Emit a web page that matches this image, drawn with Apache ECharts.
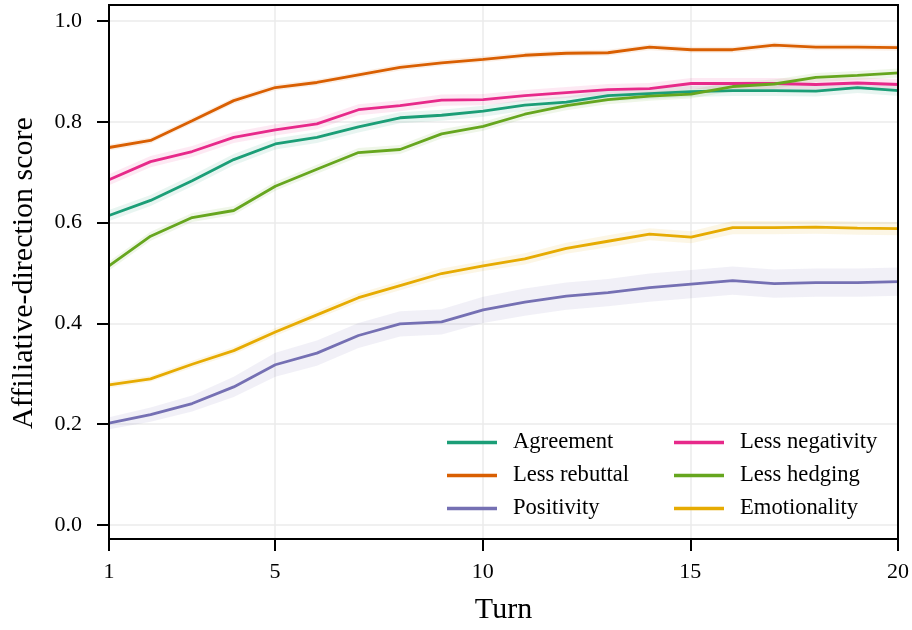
<!DOCTYPE html>
<html>
<head>
<meta charset="utf-8">
<script src="https://cdn.jsdelivr.net/npm/echarts@6/dist/echarts.min.js"></script>
<style>
html,body{margin:0;padding:0;background:#fff;}
#chart{width:912px;height:630px;}
</style>
</head>
<body>
<div id="chart"></div>
<script>
// ---- data ----
const turns = [1,2,3,4,5,6,7,8,9,10,11,12,13,14,15,16,17,18,19,20];
const xTickLabels = [1,5,10,15,20];
const yTickLabels = [0.0,0.2,0.4,0.6,0.8,1.0];

const agreement      = [0.614,0.644,0.683,0.725,0.756,0.769,0.790,0.808,0.813,0.821,0.833,0.839,0.852,0.856,0.860,0.862,0.862,0.861,0.868,0.862];
const lessRebuttal   = [0.749,0.763,0.802,0.842,0.868,0.878,0.893,0.908,0.917,0.924,0.932,0.936,0.937,0.948,0.943,0.943,0.952,0.948,0.948,0.947];
const positivity     = [0.202,0.219,0.241,0.274,0.318,0.341,0.376,0.399,0.403,0.427,0.442,0.454,0.461,0.471,0.478,0.485,0.479,0.481,0.481,0.483];
const lessNegativity = [0.685,0.721,0.741,0.769,0.784,0.796,0.824,0.832,0.843,0.844,0.852,0.858,0.864,0.866,0.876,0.876,0.876,0.874,0.877,0.874];
const lessHedging    = [0.514,0.573,0.610,0.624,0.672,0.706,0.739,0.745,0.776,0.791,0.815,0.832,0.844,0.851,0.855,0.870,0.875,0.888,0.892,0.897];
const emotionality   = [0.278,0.290,0.319,0.346,0.383,0.417,0.451,0.475,0.499,0.514,0.528,0.549,0.563,0.577,0.571,0.590,0.590,0.591,0.589,0.588];

// confidence-band half widths
const agreementCI      = [0.011,0.011,0.011,0.011,0.011,0.011,0.011,0.011,0.011,0.011,0.011,0.011,0.011,0.011,0.011,0.011,0.011,0.011,0.011,0.011];
const lessRebuttalCI   = [0.006,0.006,0.006,0.006,0.006,0.006,0.006,0.006,0.006,0.006,0.006,0.006,0.006,0.006,0.006,0.006,0.006,0.006,0.006,0.006];
const positivityCI     = [0.012,0.014,0.016,0.020,0.024,0.025,0.025,0.025,0.025,0.026,0.027,0.027,0.027,0.028,0.028,0.028,0.028,0.028,0.028,0.028];
const lessNegativityCI = [0.011,0.011,0.011,0.011,0.011,0.011,0.011,0.011,0.011,0.011,0.011,0.011,0.011,0.011,0.011,0.011,0.011,0.011,0.011,0.011];
const lessHedgingCI    = [0.009,0.009,0.009,0.009,0.009,0.009,0.009,0.009,0.009,0.009,0.009,0.009,0.009,0.009,0.009,0.009,0.009,0.009,0.009,0.009];
const emotionalityCI   = [0.006,0.006,0.007,0.007,0.008,0.008,0.009,0.009,0.010,0.010,0.011,0.011,0.012,0.012,0.012,0.013,0.013,0.013,0.013,0.013];

const seriesNames = ['Agreement','Less rebuttal','Positivity','Less negativity','Less hedging','Emotionality'];
const seriesValues = [agreement, lessRebuttal, positivity, lessNegativity, lessHedging, emotionality];
const seriesCI = [agreementCI, lessRebuttalCI, positivityCI, lessNegativityCI, lessHedgingCI, emotionalityCI];
const colors = ['#1b9e77','#d95f02','#7570b3','#e7298a','#66a61e','#e6ab02'];

// ---- chart ----
const FONT = '"Liberation Serif", "Times New Roman", serif';
function rgba(hex, a){
  const r=parseInt(hex.slice(1,3),16), g=parseInt(hex.slice(3,5),16), b=parseInt(hex.slice(5,7),16);
  return 'rgba('+r+','+g+','+b+','+a+')';
}
const catLabels = turns.map(String);
const tickIdx = new Set(xTickLabels.map(v => turns.indexOf(v)));

const series = [];
seriesNames.forEach((name, i) => {
  const vals = seriesValues[i], ci = seriesCI[i];
  const lower = vals.map((v, k) => +(v - ci[k]).toFixed(4));
  const width = ci.map(c => +(2 * c).toFixed(4));
  series.push({
    name: name + ' band low', type: 'line', xAxisIndex: 0, yAxisIndex: 0,
    data: lower, stack: 'band' + i, symbol: 'none', silent: true,
    lineStyle: { opacity: 0 }, z: 1
  });
  series.push({
    name: name + ' band', type: 'line', xAxisIndex: 0, yAxisIndex: 0,
    data: width, stack: 'band' + i, symbol: 'none', silent: true,
    lineStyle: { opacity: 0 }, areaStyle: { color: rgba(colors[i], 0.1), opacity: 1 }, z: 1
  });
});
seriesNames.forEach((name, i) => {
  series.push({
    name: name, type: 'line', xAxisIndex: 0, yAxisIndex: 0,
    data: seriesValues[i], symbol: 'none', smooth: false,
    itemStyle: { color: colors[i] },
    lineStyle: { color: colors[i], width: 2.8 },
    z: 3
  });
});

const legendCommon = {
  orient: 'vertical', icon: 'rect', itemWidth: 50, itemHeight: 3.5, itemGap: 10, padding: 0,
  selectedMode: false,
  textStyle: { fontFamily: FONT, fontSize: 22.6, color: '#000', lineHeight: 22, padding: [0,0,0,11] }
};

const option = {
  animation: false,
  backgroundColor: '#fff',
  grid: [
    { left: 109, right: 13, top: 21, bottom: 105 },
    { left: 109, right: 13, top: 5, bottom: 90, show: true, borderColor: '#000', borderWidth: 2, backgroundColor: 'transparent', z: 5 }
  ],
  xAxis: [
    { gridIndex: 0, type: 'category', boundaryGap: false, data: catLabels, show: false },
    {
      gridIndex: 1, type: 'category', boundaryGap: false, data: catLabels,
      axisLine: { show: false },
      axisTick: { show: true, length: 12, interval: (idx) => tickIdx.has(idx), lineStyle: { color: '#000', width: 2 } },
      axisLabel: { interval: (idx) => tickIdx.has(idx), margin: 22, fontFamily: FONT, fontSize: 22, color: '#000' },
      splitLine: { show: true, interval: (idx) => tickIdx.has(idx), lineStyle: { color: '#ebebeb', width: 1.5 } },
      name: 'Turn', nameLocation: 'middle', nameGap: 56,
      nameTextStyle: { fontFamily: FONT, fontSize: 30, color: '#000' }
    }
  ],
  yAxis: [
    {
      gridIndex: 0, type: 'value', min: 0, max: 1, interval: 0.2,
      axisLine: { show: false },
      axisTick: { show: true, length: 12, lineStyle: { color: '#000', width: 2 } },
      axisLabel: { margin: 27, fontFamily: FONT, fontSize: 22, color: '#000', formatter: v => v.toFixed(1) },
      splitLine: { show: true, lineStyle: { color: '#ebebeb', width: 1.5 } },
      name: 'Affiliative-direction score', nameLocation: 'middle', nameGap: 70, nameRotate: 90,
      nameTextStyle: { fontFamily: FONT, fontSize: 30, color: '#000' }
    },
    { gridIndex: 1, type: 'value', min: 0, max: 1, show: false }
  ],
  legend: [
    Object.assign({ left: 447, top: 431, data: ['Agreement','Less rebuttal','Positivity'] }, legendCommon),
    Object.assign({ left: 674, top: 431, data: ['Less negativity','Less hedging','Emotionality'] }, legendCommon)
  ],
  series: series
};

const chart = echarts.init(document.getElementById('chart'), null, { renderer: 'canvas' });
chart.setOption(option);
</script>
</body>
</html>
